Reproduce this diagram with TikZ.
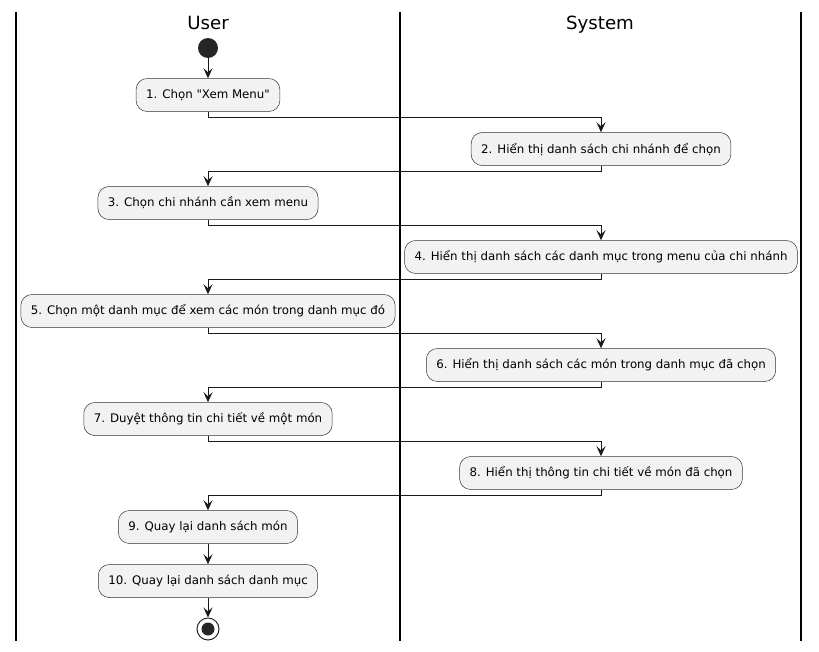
\documentclass[tikz,border=0pt]{standalone}
\usepackage{fontspec}
\setmainfont{DejaVu Sans}[Ligatures=TeXOff]
\usetikzlibrary{arrows.meta, positioning}

\begin{document}
\begin{tikzpicture}[x=1pt, y=-1pt,
    act/.style={draw=black!80, line width=0.5pt, fill=black!5, rounded corners=11pt,
        minimum height=33pt, inner xsep=10pt, font=\fontsize{11.8}{14}\selectfont},
    flow/.style={-{Stealth[length=10pt,width=9pt,inset=4pt]}, line width=0.8pt, black!90},
    lane/.style={line width=1.2pt},
    lanetitle/.style={anchor=base, font=\fontsize{18.2}{21}\selectfont}]
    \useasboundingbox (0,0) rectangle (819,651);
    % swimlanes
    \draw[lane] (16,12) -- (16,641)
                (400,12) -- (400,641)
                (801,12) -- (801,641);
    \node[lanetitle] (user) at (208,29) {User};
    \node[lanetitle] (system) at (600,29) {System};
    % actions
    \node[circle, fill=black!85, minimum size=20pt, inner sep=0pt] (start) at (208,48) {};
    \node[act] (a1) at (208,95) {1. Chọn "Xem Menu"};
    \node[act] (a2) at (601,149) {2. Hiển thị danh sách chi nhánh để chọn};
    \node[act] (a3) at (208,203) {3. Chọn chi nhánh cần xem menu};
    \node[act] (a4) at (601,257) {4. Hiển thị danh sách các danh mục trong menu của chi nhánh};
    \node[act] (a5) at (208,311) {5. Chọn một danh mục để xem các món trong danh mục đó};
    \node[act] (a6) at (601,365) {6. Hiển thị danh sách các món trong danh mục đã chọn};
    \node[act] (a7) at (208,419) {7. Duyệt thông tin chi tiết về một món};
    \node[act] (a8) at (601,473) {8. Hiển thị thông tin chi tiết về món đã chọn};
    \node[act] (a9) at (208,527) {9. Quay lại danh sách món};
    \node[act] (a10) at (208,581) {10. Quay lại danh sách danh mục};
    \node[circle, draw=black!85, line width=1pt, minimum size=22pt, inner sep=0pt] (stop) at (208,629) {};
    \node[circle, fill=black!85, minimum size=13pt, inner sep=0pt] (stopdot) at (stop) {};
    % flows
    \draw[flow] (start) -- (a1);
    \draw[flow] (a1.south) -- ++(0,6) -| (a2.north);
    \draw[flow] (a2.south) -- ++(0,6) -| (a3.north);
    \draw[flow] (a3.south) -- ++(0,6) -| (a4.north);
    \draw[flow] (a4.south) -- ++(0,6) -| (a5.north);
    \draw[flow] (a5.south) -- ++(0,6) -| (a6.north);
    \draw[flow] (a6.south) -- ++(0,6) -| (a7.north);
    \draw[flow] (a7.south) -- ++(0,6) -| (a8.north);
    \draw[flow] (a8.south) -- ++(0,6) -| (a9.north);
    \draw[flow] (a9) -- (a10);
    \draw[flow] (a10) -- (stop);
\end{tikzpicture}
\end{document}
